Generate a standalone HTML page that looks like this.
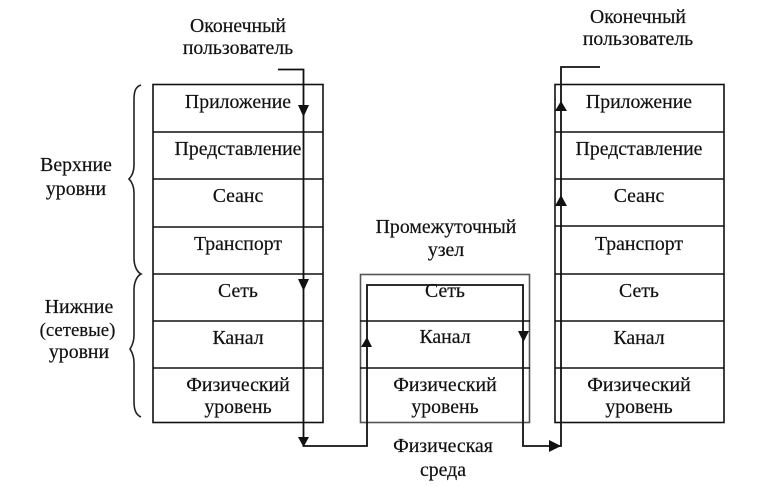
<!DOCTYPE html>
<html><head><meta charset="utf-8">
<style>
html,body{margin:0;padding:0;background:#fff;width:759px;height:487px;overflow:hidden}
svg{display:block}
text{font-family:"Liberation Serif","Noto Serif CJK SC",serif;font-size:19.8px;fill:#111;stroke:#111;stroke-width:.2;text-anchor:middle}
</style></head><body>
<svg width="759" height="487" viewBox="0 0 759 487" xmlns="http://www.w3.org/2000/svg">
<g fill="none" stroke="#111" stroke-width="1.6">
<rect x="153" y="84.5" width="170" height="338"/>
<path d="M153 132H323M153 179H323M153 227H323M153 274H323M153 321H323M153 368H323"/>
<rect x="360.5" y="274.5" width="169" height="148" stroke="#555"/>
<path d="M360 321H530M360 368H530"/>
<rect x="555" y="84.5" width="169" height="338"/>
<path d="M555 132H724M555 179H724M555 226H724M555 274H724M555 321H724M555 368H724"/>
<path d="M278 69.5H303.5V446H367V285H523V446H561V67H600" stroke-width="1.8"/>
<path d="M141 85C135 87 134 92 134 100V165C134 172 132 176 129 179C132 182 134 186 134 193V258C134 266 137 272 141 274C137 276 134 282 134 290V335C134 342 132 346 130 349C132 352 134 356 134 363V402C134 410 136 415 141 417" stroke="#222"/>
</g>
<g fill="#111">
<path d="M298 105H309L303.5 117Z"/>
<path d="M298 279H309L303.5 291Z"/>
<path d="M298 437H309L303.5 447Z"/>
<path d="M361 347H372L367 337Z"/>
<path d="M518 331H529L523.5 342Z"/>
<path d="M549 440V452L561 446Z"/>
<path d="M555 111H567L561 101Z"/>
<path d="M555 206H567L561 195Z"/>
</g>
<text x="238" y="32">Оконечный</text>
<text x="238" y="54">пользователь</text>
<text x="638" y="23">Оконечный</text>
<text x="638" y="45">пользователь</text>
<text x="238" y="108">Приложение</text>
<text x="238" y="155">Представление</text>
<text x="238" y="202">Сеанс</text>
<text x="238" y="250">Транспорт</text>
<text x="238" y="297">Сеть</text>
<text x="238" y="344">Канал</text>
<text x="238" y="391">Физический</text>
<text x="238" y="413">уровень</text>
<text x="639" y="108">Приложение</text>
<text x="639" y="155">Представление</text>
<text x="639" y="202">Сеанс</text>
<text x="639" y="250">Транспорт</text>
<text x="639" y="297">Сеть</text>
<text x="639" y="344">Канал</text>
<text x="639" y="391">Физический</text>
<text x="639" y="413">уровень</text>
<text x="445" y="297">Сеть</text>
<text x="445" y="343">Канал</text>
<text x="445" y="391">Физический</text>
<text x="445" y="413">уровень</text>
<text x="446" y="233">Промежуточный</text>
<text x="446" y="256">узел</text>
<text x="443" y="452">Физическая</text>
<text x="443" y="476">среда</text>
<text x="76" y="171">Верхние</text>
<text x="76" y="195">уровни</text>
<text x="79" y="313">Нижние</text>
<text x="77.5" y="336" style="font-size:18.8px">(сетевые)</text>
<text x="79" y="358">уровни</text>
</svg>
</body></html>
